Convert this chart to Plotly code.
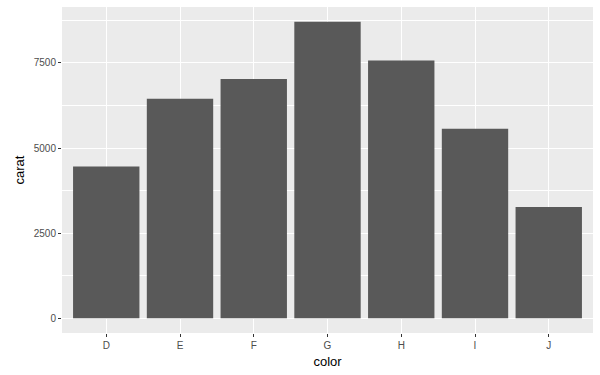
import plotly.graph_objects as go

colors = ["D", "E", "F", "G", "H", "I", "J"]
carat = [4456.56, 6445.12, 7028.05, 8708.28, 7571.58, 5568.00, 3263.28]
ytick_vals = [0, 2500, 5000, 7500]
ytick_text = ["0", "2500", "5000", "7500"]

fig = go.Figure(go.Bar(x=colors, y=carat, marker=dict(color="#595959", line=dict(width=0)), width=0.9))

ymax = max(carat)
pad = ymax * 0.05
fig.update_layout(
    width=600, height=375,
    margin=dict(l=62, r=7, t=7, b=42),
    paper_bgcolor="white",
    plot_bgcolor="#EBEBEB",
    font=dict(family="Liberation Sans, Arial, sans-serif"),
    showlegend=False,
)
fig.update_xaxes(
    type="category", range=[-0.6, 6.6],
    showgrid=True, gridcolor="white", gridwidth=1.1,
    ticks="outside", ticklen=3, tickcolor="#333333", tickwidth=1,
    tickfont=dict(size=10, color="#4D4D4D"),
    title=dict(text="color", font=dict(size=13, color="black"), standoff=6),
    zeroline=False, showline=False,
)
fig.update_yaxes(
    range=[-pad, ymax + pad],
    tickvals=ytick_vals, ticktext=ytick_text,
    showgrid=True, gridcolor="white", gridwidth=1.1,
    minor=dict(tickvals=[1250, 3750, 6250, 8750], showgrid=True, gridcolor="white", gridwidth=0.5, ticks=""),
    ticks="outside", ticklen=3, tickcolor="#333333", tickwidth=1,
    tickfont=dict(size=10, color="#4D4D4D"),
    title=dict(text="carat", font=dict(size=13, color="black"), standoff=6),
    zeroline=False, showline=False,
)

fig.write_html("out.html")
